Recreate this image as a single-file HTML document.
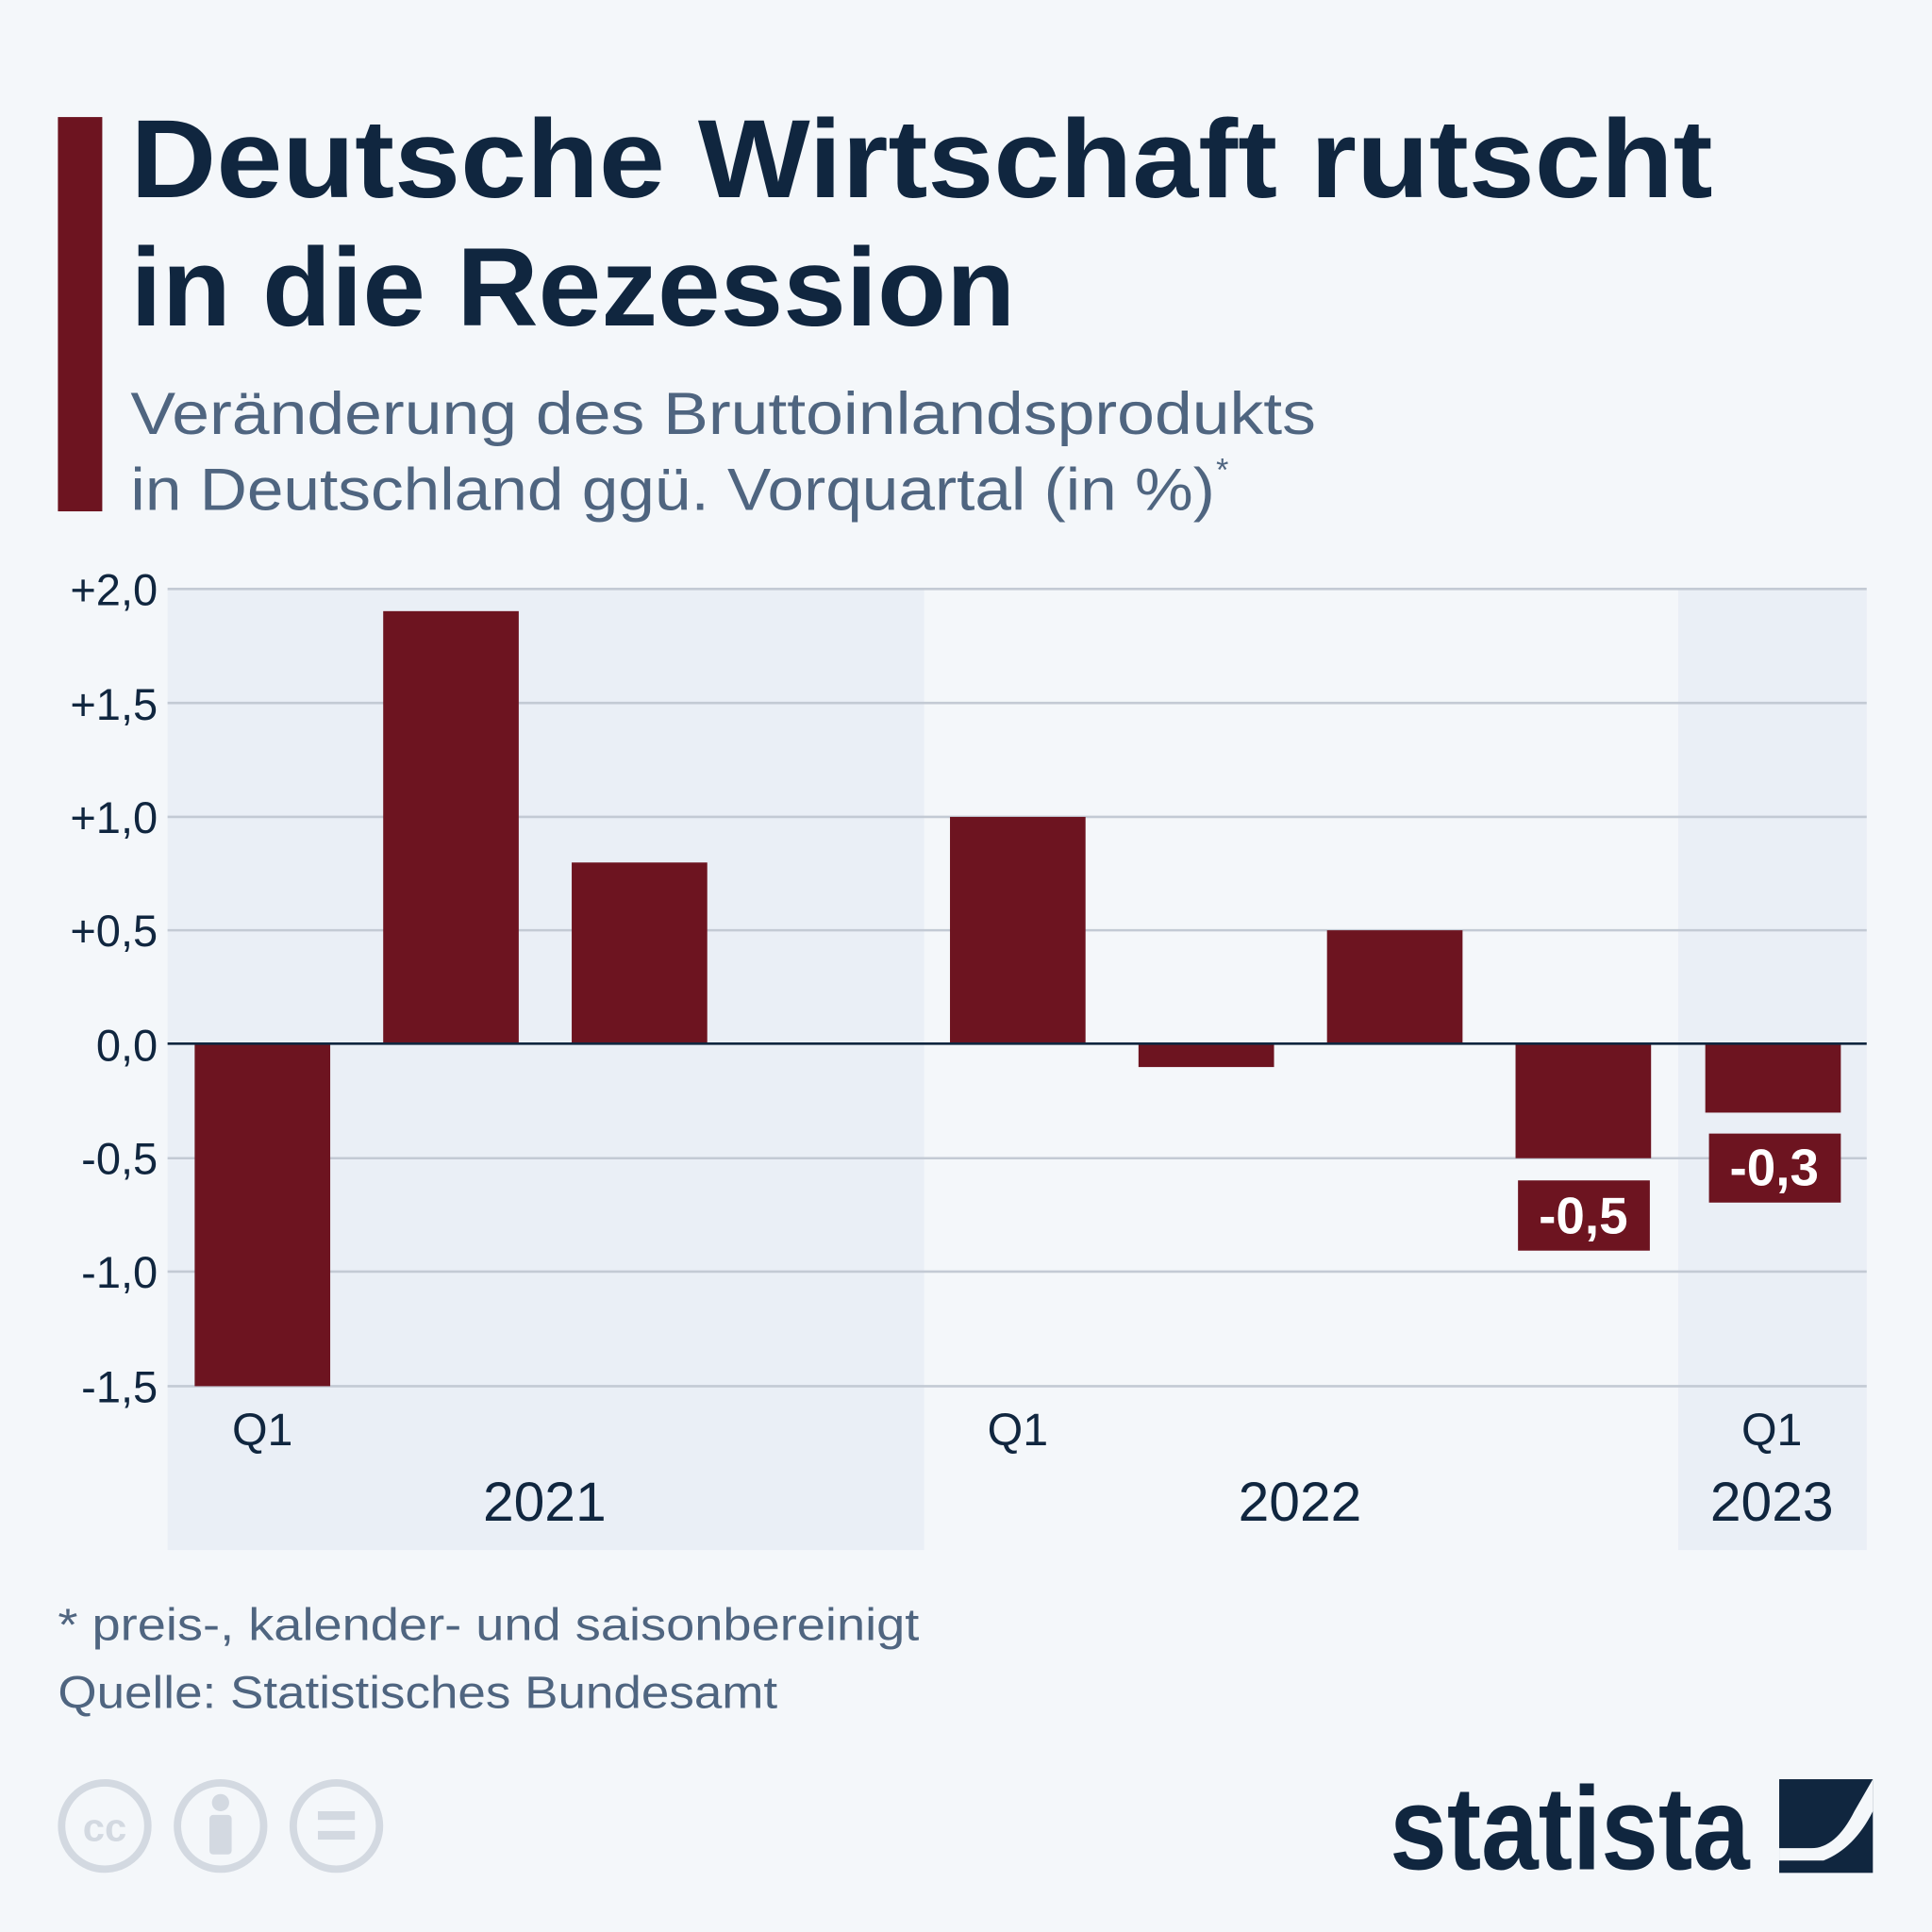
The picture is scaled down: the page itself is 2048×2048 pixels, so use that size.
<!DOCTYPE html>
<html><head><meta charset="utf-8"><style>
html,body{margin:0;padding:0;background:#f4f7fa;}
svg{display:block;}
text{font-family:"Liberation Sans","DejaVu Sans",sans-serif;}
</style></head><body>
<svg width="2048" height="2048" viewBox="0 0 1568 1568" xmlns="http://www.w3.org/2000/svg">
<rect width="1568" height="1568" fill="#f4f7fa"/>
<rect x="47" y="95" width="36" height="320" fill="#6d1420"/>
<text x="106" y="160" font-size="90" font-weight="bold" fill="#10263f" textLength="1284" lengthAdjust="spacingAndGlyphs">Deutsche Wirtschaft rutscht</text>
<text x="106" y="264" font-size="90" font-weight="bold" fill="#10263f" textLength="718" lengthAdjust="spacingAndGlyphs">in die Rezession</text>
<text x="106" y="352" font-size="48" fill="#4f6580" textLength="962" lengthAdjust="spacingAndGlyphs">Veränderung des Bruttoinlandsprodukts</text>
<text x="106" y="414" font-size="48" fill="#4f6580" textLength="880" lengthAdjust="spacingAndGlyphs">in Deutschland ggü. Vorquartal (in %)</text>
<text x="987" y="390" font-size="26" fill="#4f6580">*</text>
<rect x="136" y="478" width="614" height="780" fill="#eaeff6"/>
<rect x="1362" y="478" width="153" height="780" fill="#eaeff6"/>
<g stroke="#c3cad4" stroke-width="2">
<line x1="136" x2="1515" y1="478" y2="478"/>
<line x1="136" x2="1515" y1="570.5" y2="570.5"/>
<line x1="136" x2="1515" y1="663" y2="663"/>
<line x1="136" x2="1515" y1="755" y2="755"/>
<line x1="136" x2="1515" y1="940" y2="940"/>
<line x1="136" x2="1515" y1="1032" y2="1032"/>
<line x1="136" x2="1515" y1="1125" y2="1125"/>
</g>
<g font-size="36" fill="#10263f" text-anchor="end">
<text x="128" y="491">+2,0</text>
<text x="128" y="584">+1,5</text>
<text x="128" y="676">+1,0</text>
<text x="128" y="768">+0,5</text>
<text x="128" y="861">0,0</text>
<text x="128" y="953">-0,5</text>
<text x="128" y="1045">-1,0</text>
<text x="128" y="1138">-1,5</text>
</g>
<g fill="#6d1420">
<rect x="158" y="847" width="110" height="278"/>
<rect x="311" y="496" width="110" height="351"/>
<rect x="464" y="700" width="110" height="147"/>
<rect x="771" y="663" width="110" height="184"/>
<rect x="924" y="847" width="110" height="19"/>
<rect x="1077" y="755" width="110" height="92"/>
<rect x="1230" y="847" width="110" height="93"/>
<rect x="1384" y="847" width="110" height="56"/>
<rect x="1232" y="958" width="107" height="57"/>
<rect x="1387" y="920" width="107" height="56"/>
</g>
<line x1="136" x2="1515" y1="847" y2="847" stroke="#10263f" stroke-width="2"/>
<g font-size="42" font-weight="bold" fill="#fff" text-anchor="middle">
<text x="1285" y="1001">-0,5</text>
<text x="1440" y="962">-0,3</text>
</g>
<g font-size="37" fill="#10263f" text-anchor="middle">
<text x="213" y="1173">Q1</text>
<text x="826" y="1173">Q1</text>
<text x="1438" y="1173">Q1</text>
<text font-size="45" x="442" y="1234">2021</text>
<text font-size="45" x="1055" y="1234">2022</text>
<text font-size="45" x="1438" y="1234">2023</text>
</g>
<g font-size="37" fill="#4f6580">
<text x="47" y="1331" textLength="699" lengthAdjust="spacingAndGlyphs">* preis-, kalender- und saisonbereinigt</text>
<text x="47" y="1386" textLength="584" lengthAdjust="spacingAndGlyphs">Quelle: Statistisches Bundesamt</text>
</g>
<g fill="none" stroke="#d3d9e1" stroke-width="6">
<circle cx="85" cy="1482" r="35"/>
<circle cx="179" cy="1482" r="35"/>
<circle cx="273" cy="1482" r="35"/>
</g>
<text x="85" y="1494" font-size="32" font-weight="bold" fill="#d3d9e1" text-anchor="middle">cc</text>
<circle cx="179" cy="1463" r="7" fill="#d3d9e1"/>
<rect x="170" y="1473" width="18" height="32" rx="3" fill="#d3d9e1"/>
<rect x="258" y="1470" width="30" height="7" fill="#d3d9e1"/>
<rect x="258" y="1486" width="30" height="7" fill="#d3d9e1"/>
<text x="1128" y="1517" font-size="96" font-weight="bold" fill="#10263f" textLength="292" lengthAdjust="spacingAndGlyphs">statista</text>
<rect x="1444" y="1444" width="76" height="76" fill="#10263f"/>
<path d="M1444 1500 L1470 1500 Q1490 1500 1505 1470 L1520 1444 L1520 1470 Q1505 1500 1480 1510 L1444 1510 Z" fill="#f4f7fa"/>
</svg>
</body></html>
